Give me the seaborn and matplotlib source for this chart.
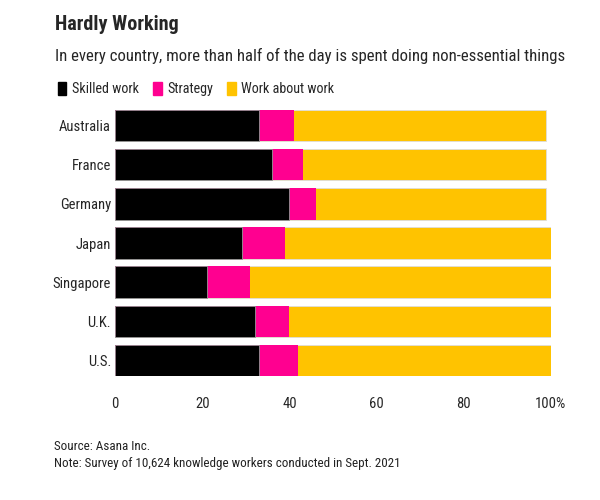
"""Stacked bar chart: how the workday is split, by country."""

import pandas as pd
import matplotlib.pyplot as plt
import seaborn as sns
from matplotlib.patches import Patch

countries = ["Australia", "France", "Germany", "Japan", "Singapore", "U.K.", "U.S."]
skilled_work = [33, 36, 40, 29, 21, 32, 33]
strategy = [8, 7, 6, 10, 10, 8, 9]
work_about_work = [58, 56, 53, 61, 69, 60, 58]
x_ticks = [0, 20, 40, 60, 80, 100]
x_tick_labels = ["0", "20", "40", "60", "80", "100%"]

BLACK = "#000000"
PINK = "#FF0090"
YELLOW = "#FFC300"

sns.set_style("white")
plt.rcParams["font.family"] = ["Roboto Condensed", "IBM Plex Sans Condensed", "DejaVu Sans"]

df = pd.DataFrame({
    "country": countries,
    "skilled": skilled_work,
    "strategy": strategy,
    "wow": work_about_work,
})
df["to_strategy"] = df["skilled"] + df["strategy"]
df["total"] = df["to_strategy"] + df["wow"]

fig = plt.figure(figsize=(6, 5), dpi=100)
ax = fig.add_axes([0.192, 0.248, 0.726, 0.532])

sns.barplot(data=df, x="total", y="country", color=YELLOW, orient="h",
            width=0.8, saturation=1, edgecolor="#dddddd", linewidth=0.6, ax=ax)
sns.barplot(data=df, x="to_strategy", y="country", color=PINK, orient="h",
            width=0.8, saturation=1, linewidth=0, ax=ax)
sns.barplot(data=df, x="skilled", y="country", color=BLACK, orient="h",
            width=0.8, saturation=1, edgecolor="#999999", linewidth=0.6, ax=ax)

ax.set_xlim(0, 100)
ax.set_ylim(6.4, -0.4)
ax.set_xticks(x_ticks)
ax.set_xticklabels(x_tick_labels)
ax.set_xlabel("")
ax.set_ylabel("")
sns.despine(ax=ax, left=True, bottom=True)
ax.tick_params(axis="x", length=6, width=0.8, color="#555555", pad=9, labelsize=10.5)
ax.tick_params(axis="y", length=0, pad=3, labelsize=10.5)
ax.grid(False)

fig.text(0.092, 0.95, "Hardly Working", fontsize=14.5, fontweight="bold", va="center")
fig.text(0.092, 0.888, "In every country, more than half of the day is spent doing non-essential things",
         fontsize=12.1, va="center")

handles = [Patch(color=BLACK), Patch(color=PINK), Patch(color=YELLOW)]
fig.legend(handles, ["Skilled work", "Strategy", "Work about work"],
           loc="center left", bbox_to_anchor=(0.075, 0.822), ncol=3, frameon=False,
           handlelength=0.6, handleheight=1.0, handletextpad=0.4, columnspacing=1.0,
           fontsize=10.2)

fig.text(0.09, 0.108, "Source: Asana Inc.", fontsize=9.4, va="center", color="#222222")
fig.text(0.09, 0.074, "Note: Survey of 10,624 knowledge workers conducted in Sept. 2021",
         fontsize=9.4, va="center", color="#222222")

fig.savefig("out.png", dpi=100)
plt.close(fig)
print("Saved: out.png")
